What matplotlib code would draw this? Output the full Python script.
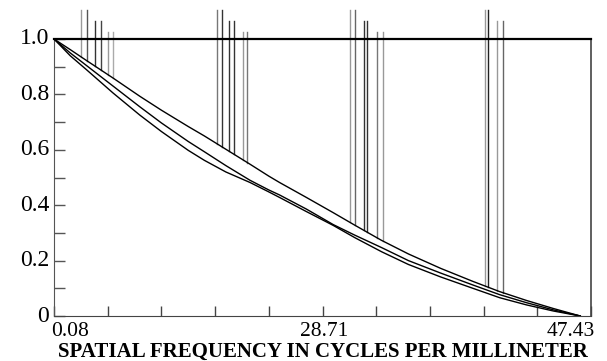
import matplotlib

matplotlib.use("Agg")
import matplotlib.pyplot as plt
import numpy as np

# normalised spatial frequency (0 = 0.08 c/mm, 1 = 47.43 c/mm)
freq = [0.0, 0.03, 0.06, 0.11, 0.16, 0.20, 0.25, 0.28, 0.32, 0.365, 0.40, 0.42,
        0.47, 0.52, 0.56, 0.61, 0.66, 0.72, 0.78, 0.83, 0.88, 0.93, 0.98]

mtf_upper = [1.0, 0.962, 0.923, 0.859, 0.793, 0.743, 0.684, 0.650, 0.602, 0.548, 0.505, 0.482,
             0.428, 0.373, 0.328, 0.273, 0.224, 0.172, 0.125, 0.088, 0.056, 0.027, 0.0]
mtf_middle = [1.0, 0.950, 0.905, 0.830, 0.755, 0.697, 0.630, 0.593, 0.543, 0.490, 0.455, 0.437,
              0.386, 0.330, 0.292, 0.247, 0.200, 0.155, 0.112, 0.077, 0.048, 0.022, 0.0]
mtf_lower = [1.0, 0.940, 0.890, 0.805, 0.725, 0.666, 0.598, 0.562, 0.520, 0.482, 0.448, 0.428,
             0.377, 0.327, 0.283, 0.232, 0.186, 0.141, 0.100, 0.066, 0.040, 0.018, 0.0]

# vertical marker lines: position, top height, grey level
marker_freq = [0.051, 0.061, 0.077, 0.087, 0.101, 0.110,
               0.303, 0.312, 0.326, 0.335, 0.352, 0.360,
               0.551, 0.561, 0.577, 0.583, 0.602, 0.613,
               0.802, 0.808, 0.825, 0.837]
marker_top = [1.105, 1.105, 1.066, 1.066, 1.026, 1.026,
              1.105, 1.105, 1.066, 1.066, 1.026, 1.026,
              1.105, 1.105, 1.066, 1.066, 1.026, 1.026,
              1.105, 1.105, 1.066, 1.066]
marker_color = ["#9a9a9a", "#555555", "#333333", "#444444", "#9a9a9a", "#aaaaaa",
                "#777777", "#333333", "#333333", "#333333", "#999999", "#777777",
                "#999999", "#666666", "#333333", "#333333", "#777777", "#999999",
                "#999999", "#222222", "#999999", "#666666"]

x_tick_pos = [0.0, 0.5, 1.0]
x_tick_labels = ["0.08", "28.71", "47.43"]
y_tick_pos = [0.0, 0.2, 0.4, 0.6, 0.8, 1.0]
y_tick_labels = ["0", "0.2", "0.4", "0.6", "0.8", "1.0"]

fig = plt.figure(figsize=(6.07, 3.61), dpi=100)
ax = fig.add_axes([54 / 607, 45 / 361, 537 / 607, 277 / 361])

# markers drop from their top down onto the upper curve
marker_base = np.interp(marker_freq, freq, mtf_upper)
for xpos, base, top, color in zip(marker_freq, marker_base, marker_top, marker_color):
    ax.plot([xpos, xpos], [base, top], color=color, linewidth=1.0, clip_on=False, zorder=2)

for series in (mtf_upper, mtf_middle, mtf_lower):
    ax.plot(freq, series, color="black", linewidth=1.0, zorder=3)

ax.set_xlim(0, 1)
ax.set_ylim(0, 1)

ax.spines["top"].set_color("black")
ax.spines["top"].set_linewidth(1.6)
ax.spines["left"].set_color("#555555")
ax.spines["bottom"].set_color("#444444")
ax.spines["right"].set_color("#444444")
ax.spines["right"].set_linewidth(1.2)

ax.set_xticks(np.linspace(0, 1, 11))
ax.set_xticklabels([""] * 11)
ax.set_yticks(np.linspace(0, 1, 11))
ax.set_yticklabels([""] * 11)
ax.tick_params(axis="x", direction="in", length=7, width=1, color="#444444", top=False)
ax.tick_params(axis="y", direction="in", length=8, width=1, color="#555555", right=False)

serif = "Liberation Serif"
px = 72 / 100  # points per pixel
for pos, label, ha, dx in zip(x_tick_pos, x_tick_labels, ["left", "center", "right"], [-3, 2, 4]):
    ax.annotate(label, xy=(pos, 0), xycoords="data", xytext=(dx * px, -20.5 * px), textcoords="offset points",
                ha=ha, va="baseline", fontsize=15.5, family=serif)
for pos, label in zip(y_tick_pos, y_tick_labels):
    ax.annotate(label, xy=(0, pos), xycoords="data", xytext=(-3.5, 0), textcoords="offset points",
                ha="right", va="center", fontsize=17, family=serif)

fig.text(322.5 / 607, 1 - 357 / 361, "SPATIAL FREQUENCY IN CYCLES PER MILLINETER",
         ha="center", va="baseline", fontsize=15, fontweight="bold", family=serif)

fig.savefig("out.png", dpi=100)
